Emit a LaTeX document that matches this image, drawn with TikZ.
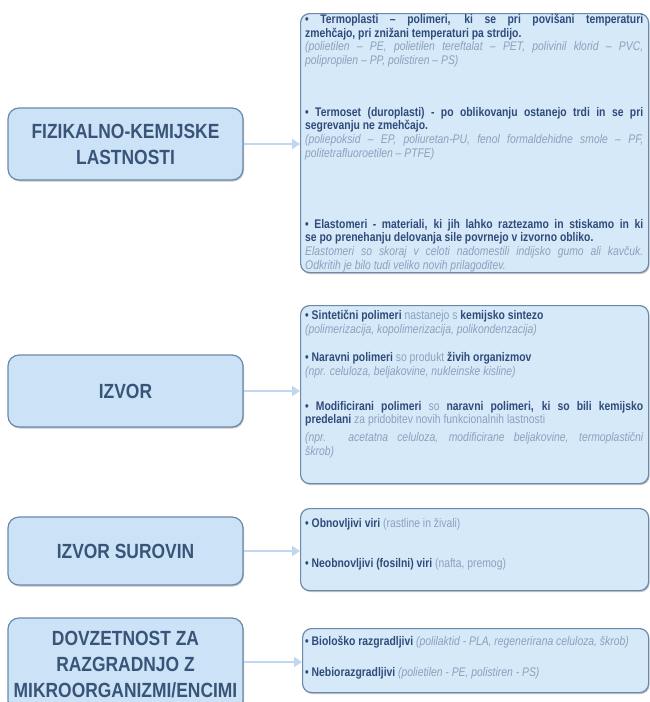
\documentclass[tikz,border=0pt]{standalone}
\usepackage{fontspec}
\setmainfont{Liberation Sans}
\newfontfamily\rtextfont{Liberation Sans}[FakeStretch=0.83]
\newfontfamily\labelfont{Liberation Sans}[FakeStretch=0.85]
\usetikzlibrary{arrows.meta,shadows}
\definecolor{leftfill}{HTML}{CCE2F6}
\definecolor{rightfill}{HTML}{D6E9F9}
\definecolor{boxdraw}{HTML}{6C89AA}
\definecolor{labeltext}{HTML}{385478}
\definecolor{boldtext}{HTML}{2F4B7A}
\definecolor{softtext}{HTML}{8BA1BD}
\definecolor{arrowcol}{HTML}{BFD8EF}
\newcommand\mybold[1]{{\color{boldtext}\bfseries #1}}
\newcommand\mysoft[1]{{\color{softtext}\itshape #1}}
\newcommand\myplain[1]{{\color{softtext}#1}}
\tikzset{
  leftbox/.style={draw=boxdraw, line width=1.2pt, fill=leftfill, rounded corners=11pt,
    minimum width=235pt, align=center, text=labeltext,
    font={\labelfont\bfseries\fontsize{20.5pt}{26pt}\selectfont},
    drop shadow={shadow xshift=1pt, shadow yshift=-1.5pt, fill=black!45, opacity=0.5}},
  rightbox/.style={draw=boxdraw, line width=1.2pt, fill=rightfill, rounded corners=9pt,
    anchor=north west,
    drop shadow={shadow xshift=1pt, shadow yshift=-1.5pt, fill=black!45, opacity=0.5}},
  rtext/.style={anchor=north west, inner sep=0pt, text width=338pt, align=justify,
    font={\rtextfont\fontsize{12.5pt}{13.6pt}\selectfont}},
  flow/.style={draw=arrowcol, line width=2.4pt, -{Triangle[length=8pt,width=10pt]}}
}
\begin{document}
\begin{tikzpicture}[x=1pt,y=1pt]
\useasboundingbox[fill=white] (0,0) rectangle (649,-702);
% right boxes
\node[rightbox, minimum width=348pt, minimum height=259pt] (R1) at (300,-13) {};
\node[rightbox, minimum width=348pt, minimum height=178pt] (R2) at (300,-305) {};
\node[rightbox, minimum width=348pt, minimum height=82pt] (R3) at (300,-508) {};
\node[rightbox, minimum width=346pt, minimum height=64pt] (R4) at (302,-628) {};
% left boxes
\node[leftbox, minimum height=72pt] (A) at (125.5,-144) {FIZIKALNO-KEMIJSKE\\LASTNOSTI};
\node[leftbox, minimum height=72pt] (B) at (125.5,-391) {IZVOR};
\node[leftbox, minimum height=68pt] (C) at (125.5,-551) {IZVOR SUROVIN};
\node[leftbox, minimum height=94pt] (D) at (125.5,-665) {DOVZETNOST ZA\\RAZGRADNJO Z\\MIKROORGANIZMI/ENCIMI};
% connectors
\draw[flow] (A.east) -- (A.east -| R1.west);
\draw[flow] (B.east) -- (B.east -| R2.west);
\draw[flow] (C.east) -- (C.east -| R3.west);
\draw[flow] ([yshift=3pt]D.east) -- ([yshift=3pt]D.east -| R4.west);
% box 1 texts
\node[rtext] (t11) at (305,-14) {\mybold{• Termoplasti – polimeri, ki se pri povišani temperaturi\linebreak zmehčajo, pri znižani temperaturi pa strdijo.}\\
\mysoft{(polietilen – PE, polietilen tereftalat – PET, polivinil klorid – PVC,\linebreak polipropilen – PP, polistiren – PS)}};
\node[rtext] (t12) at (305,-107) {\mybold{• Termoset (duroplasti) - po oblikovanju ostanejo trdi in se pri\linebreak segrevanju ne zmehčajo.}\\
\mysoft{(poliepoksid – EP, poliuretan-PU, fenol formaldehidne smole – PF,\linebreak politetrafluoroetilen – PTFE)}};
\node[rtext] (t13) at (305,-219) {\mybold{• Elastomeri - materiali, ki jih lahko raztezamo in stiskamo in ki\linebreak se po prenehanju delovanja sile povrnejo v izvorno obliko.}\\
\mysoft{Elastomeri so skoraj v celoti nadomestili indijsko gumo ali kavčuk.\linebreak Odkritih je bilo tudi veliko novih prilagoditev.}};
% box 2 texts
\node[rtext] (t21) at (305,-310) {\mybold{• Sintetični polimeri} \myplain{nastanejo s} \mybold{kemijsko sintezo}\\
\mysoft{(polimerizacija, kopolimerizacija, polikondenzacija)}};
\node[rtext] (t22) at (305,-352) {\mybold{• Naravni polimeri} \myplain{so produkt} \mybold{živih organizmov}\\
\mysoft{(npr. celuloza, beljakovine, nukleinske kisline)}};
\node[rtext] (t23) at (305,-401) {\mybold{• Modificirani polimeri} \myplain{so} \mybold{naravni polimeri, ki so bili kemijsko\linebreak predelani} \myplain{za pridobitev novih funkcionalnih lastnosti}\\[4pt]
\mysoft{(npr. acetatna celuloza, modificirane beljakovine, termoplastični\linebreak škrob)}};
% box 3 texts
\node[rtext] (t31) at (305,-518) {\mybold{• Obnovljivi viri} \myplain{(rastline in živali)}};
\node[rtext] (t32) at (305,-558) {\mybold{• Neobnovljivi (fosilni) viri} \myplain{(nafta, premog)}};
% box 4 texts
\node[rtext] (t41) at (305,-636) {\mybold{• Biološko razgradljivi} \mysoft{(polilaktid - PLA, regenerirana celuloza, škrob)}};
\node[rtext] (t42) at (305,-667) {\mybold{• Nebiorazgradljivi} \mysoft{(polietilen - PE, polistiren - PS)}};
\end{tikzpicture}
\end{document}
